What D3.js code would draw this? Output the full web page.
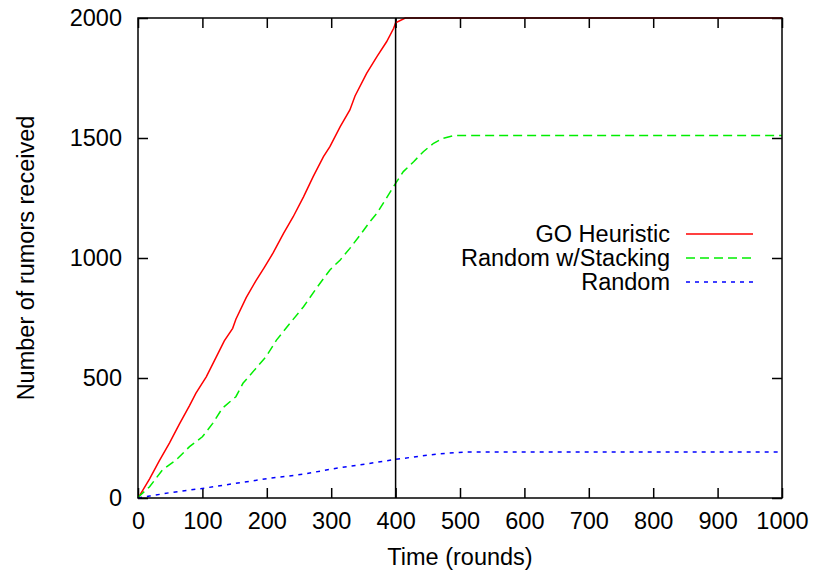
<!DOCTYPE html>
<html>
<head>
<meta charset="utf-8">
<script src="https://cdn.jsdelivr.net/npm/d3@7"></script>
<style>
  html, body { margin: 0; padding: 0; background: #fff; }
  svg text { font-family: "Liberation Sans", Arial, Helvetica, sans-serif; fill: #000; }
</style>
</head>
<body>
<svg id="chart" width="815" height="573"></svg>
<script>
// ---- data ----
const xTicks = [0, 100, 200, 300, 400, 500, 600, 700, 800, 900, 1000];
const yTicks = [0, 500, 1000, 1500, 2000];
const seriesNames = ["GO Heuristic", "Random w/Stacking", "Random"];
const markerRound = 400;

const goRounds = [0,2,18,33,49,64,80,90,106,121,134,147,152,168,183,196,210,226,241,257,272,288,298,314,329,337,355,371,386,397,400,415,1000];
const goValues = [0,8,80,155,230,307,385,437,505,585,655,707,745,835,905,960,1022,1103,1172,1255,1339,1422,1464,1547,1617,1675,1769,1839,1901,1957,1980,2000,2000];

const stackRounds = [0,1,18,38,59,80,100,116,131,152,163,183,199,215,236,257,277,298,314,329,345,360,371,387,400,412,428,443,459,474,490,1000];
const stackValues = [0,5,47,117,158,214,255,311,374,422,478,540,589,658,728,797,874,950,992,1040,1096,1151,1186,1255,1311,1360,1401,1443,1478,1499,1510,1510];

const randRounds = [0,18,49,100,152,204,256,308,359,400,463,509,1000];
const randValues = [0,8,22,40,61,82,99,124,144,161,183,192,192];

// ---- layout ----
const svg = d3.select("#chart");
const margin = {left: 138, right: 33, top: 18, bottom: 75};
const W = 815, H = 573;
const x = d3.scaleLinear().domain([0, 1000]).range([margin.left, W - margin.right]);
const y = d3.scaleLinear().domain([0, 2000]).range([H - margin.bottom, margin.top]);
const FS = 23.5;
const tickLen = 10;

const styles = [
  {color: "#ff0000", dash: null},
  {color: "#00ee00", dash: "9,5"},
  {color: "#0000ff", dash: "4,5"}
];

const series = [
  goRounds.map((r, i) => [r, goValues[i]]),
  stackRounds.map((r, i) => [r, stackValues[i]]),
  randRounds.map((r, i) => [r, randValues[i]])
];

// axes with inward ticks (gnuplot mirror style)
const axBottom = d3.axisBottom(x).tickValues(xTicks).tickSize(-tickLen).tickPadding(14).tickFormat(d3.format("d"));
const axTop = d3.axisTop(x).tickValues(xTicks).tickSize(-tickLen).tickFormat("");
const axLeft = d3.axisLeft(y).tickValues(yTicks).tickSize(-tickLen).tickPadding(16).tickFormat(d3.format("d"));
const axRight = d3.axisRight(y).tickValues(yTicks).tickSize(-tickLen).tickFormat("");

function styleAxis(g) {
  g.select(".domain").remove();
  g.selectAll(".tick line").attr("stroke", "#000").attr("stroke-width", 1.5);
  g.selectAll(".tick text").attr("font-size", FS).attr("font-family", "Liberation Sans, Arial, sans-serif");
}

svg.append("g").attr("transform", `translate(0,${H - margin.bottom})`).call(axBottom).call(styleAxis);
svg.append("g").attr("transform", `translate(0,${margin.top})`).call(axTop).call(styleAxis);
svg.append("g").attr("transform", `translate(${margin.left},0)`).call(axLeft).call(styleAxis);
svg.append("g").attr("transform", `translate(${W - margin.right},0)`).call(axRight).call(styleAxis);

// curves
const line = d3.line().x(d => x(d[0])).y(d => y(d[1]));
series.forEach((s, i) => {
  svg.append("path")
    .datum(s)
    .attr("fill", "none")
    .attr("stroke", styles[i].color)
    .attr("stroke-width", 1.5)
    .attr("stroke-dasharray", styles[i].dash)
    .attr("d", line);
});

// vertical marker at round 400
svg.append("line")
  .attr("x1", x(markerRound)).attr("x2", x(markerRound))
  .attr("y1", y(0)).attr("y2", y(2000))
  .attr("stroke", "#000").attr("stroke-width", 1.5);

// border
svg.append("rect")
  .attr("x", x(0)).attr("y", y(2000))
  .attr("width", x(1000) - x(0)).attr("height", y(0) - y(2000))
  .attr("fill", "none").attr("stroke", "#000").attr("stroke-width", 1.5);

// legend
const legTextX = 670, legLineX1 = 686, legLineX2 = 753, legY0 = 234, legDy = 24;
seriesNames.forEach((name, i) => {
  const yy = legY0 + i * legDy;
  svg.append("text")
    .attr("x", legTextX).attr("y", yy)
    .attr("text-anchor", "end").attr("dominant-baseline", "central")
    .attr("font-size", FS).text(name);
  svg.append("line")
    .attr("x1", legLineX1).attr("x2", legLineX2)
    .attr("y1", yy).attr("y2", yy)
    .attr("stroke", styles[i].color).attr("stroke-width", 1.5)
    .attr("stroke-dasharray", styles[i].dash);
});

// axis titles
svg.append("text")
  .attr("x", (x(0) + x(1000)) / 2).attr("y", 565)
  .attr("text-anchor", "middle").attr("font-size", FS)
  .text("Time (rounds)");

svg.append("text")
  .attr("transform", `translate(34,${(y(0) + y(2000)) / 2}) rotate(-90)`)
  .attr("text-anchor", "middle").attr("font-size", FS)
  .text("Number of rumors received");
</script>
</body>
</html>
